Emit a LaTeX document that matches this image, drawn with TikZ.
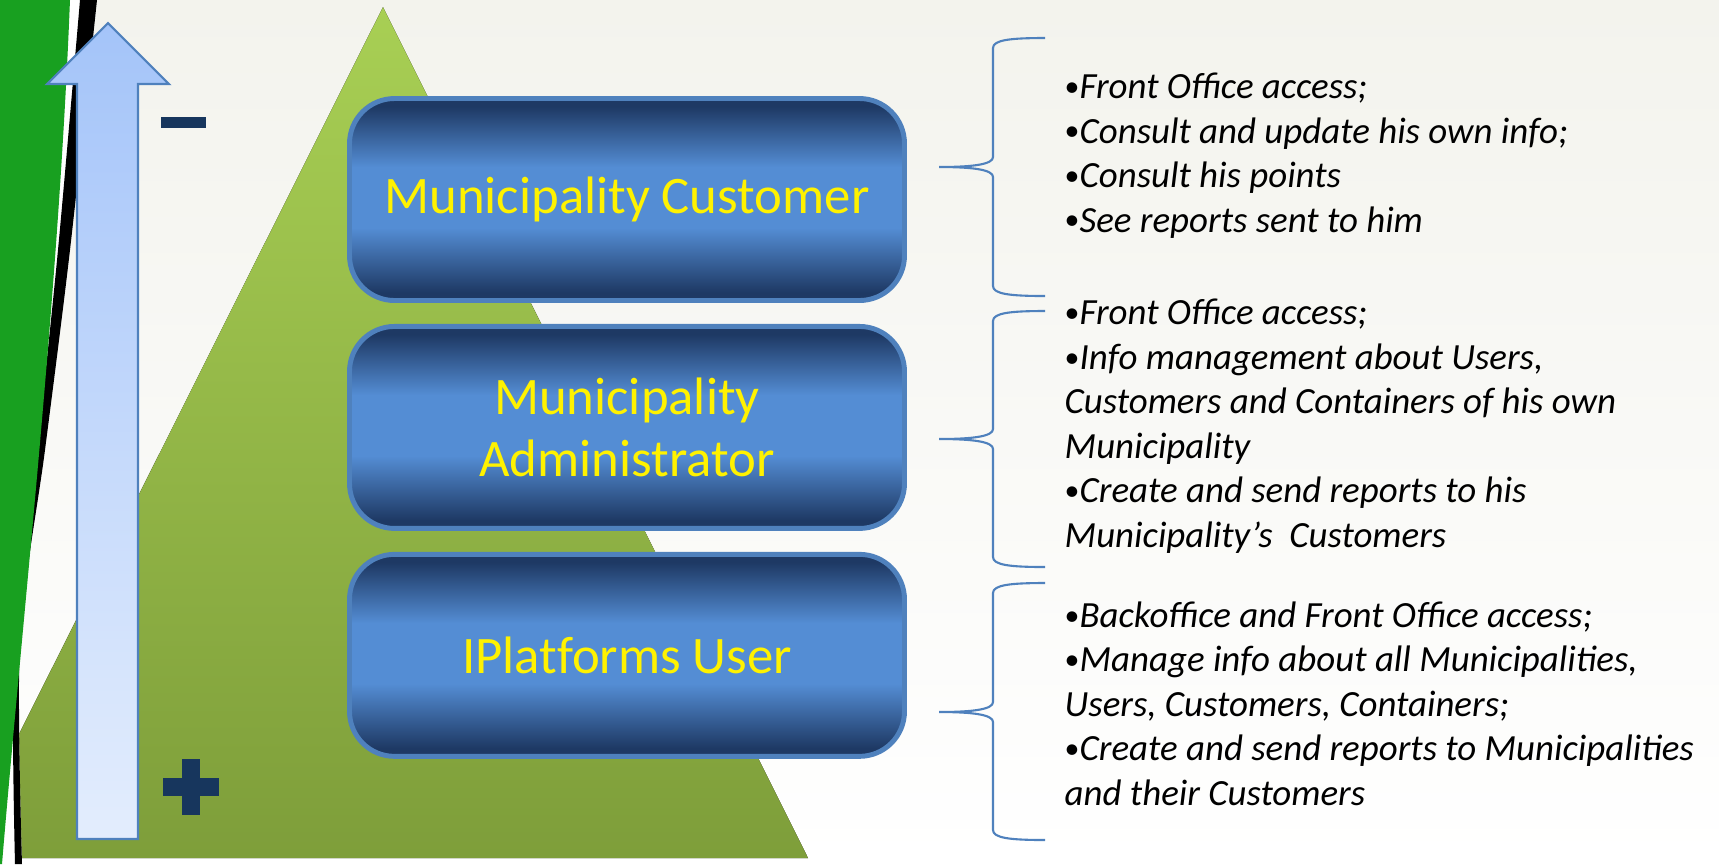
\documentclass[tikz,border=0pt]{standalone}
\usepackage{fontspec}
\setmainfont{Carlito}
\usepackage{graphicx}
\usepackage{tikz}
\usetikzlibrary{positioning}

\definecolor{bgtop}{RGB}{243,243,237}
\definecolor{stripgreen}{RGB}{24,160,32}
\definecolor{tritop}{RGB}{168,207,84}
\definecolor{tribot}{RGB}{126,158,58}
\definecolor{arrowtop}{RGB}{164,196,249}
\definecolor{arrowbot}{RGB}{227,237,253}
\definecolor{edgeblue}{RGB}{79,129,189}
\definecolor{boxdark}{RGB}{30,57,100}
\definecolor{boxlight}{RGB}{84,141,212}
\definecolor{signblue}{RGB}{23,54,93}

\pgfdeclareverticalshading{boxshade}{100bp}{color(0bp)=(boxdark); color(27bp)=(boxdark);
  color(43bp)=(boxlight); color(58bp)=(boxlight); color(73bp)=(boxdark); color(100bp)=(boxdark)}

\newcommand\dotitem{\raisebox{0.12ex}{\upshape\fontsize{8.5}{8.5}\selectfont•}}

\begin{document}
\begin{tikzpicture}[x=0.1mm,y=-0.1mm,
    role/.style={draw=edgeblue,line width=1.4pt,rounded corners=4.5mm,shading=boxshade,
      minimum width=55.5mm,minimum height=20.2mm,text=yellow,align=center,
      font=\fontsize{15}{17.6}\selectfont},
    rights/.style={anchor=base west,align=left,inner sep=0pt,
      font=\itshape\fontsize{10.5}{12.65}\selectfont},
    bracket/.style={draw=edgeblue,line width=0.6pt}]
  \useasboundingbox (0,0) rectangle (1719,864);
  \fill[top color=bgtop,bottom color=white] (0,0) rectangle (1719,864);

  \fill[top color=tritop,bottom color=tribot] (383,7) -- (808,858) -- (-43,858) -- cycle;
  \fill[white] (0,0) -- plot[smooth] coordinates {(97,0) (70,250) (45,450) (20,650) (22,864)}
    -- (0,864) -- cycle;
  \fill[black] plot[smooth] coordinates {(80,0) (58,250) (37,450) (14,640) (15,864)}
    -- plot[smooth] coordinates {(22,864) (20,640) (45,450) (70,250) (97,0)} -- cycle;
  \fill[stripgreen] (0,0) -- (70,0) .. controls (58,300) and (24,600) .. (2,864) -- (0,864) -- cycle;

  \draw[draw=edgeblue,line width=0.6pt,top color=arrowtop,bottom color=arrowbot]
    (77,839) -- (77,84) -- (47,84) -- (108,23) -- (169,84) -- (138,84) -- (138,839) -- cycle;
  \fill[signblue] (161,117) rectangle (206,128);
  \fill[signblue] (163,778) rectangle (219,796);
  \fill[signblue] (182,759) rectangle (200,815);

  \node[role] (cust) at (627,199.5) {Municipality Customer};
  \node[role,below=2.1mm of cust] (admin) {Municipality\\Administrator};
  \node[role,below=2.1mm of admin] (user) {IPlat\kern0pt forms User};

  \foreach \top/\tip/\bot in {38/167/296, 311/439/567, 583/712/840}
    \draw[bracket] (1045,\top) .. controls (1010,\top) and (993,\top+2) .. (993,\top+10)
      -- (993,\tip-10) .. controls (993,\tip-3) and (975,\tip) .. (939,\tip)
      .. controls (975,\tip) and (993,\tip+3) .. (993,\tip+10)
      -- (993,\bot-10) .. controls (993,\bot-2) and (1010,\bot) .. (1045,\bot);

  \node[rights] (custinfo) at (1064,232) {\dotitem Front Office access;\\
    \dotitem Consult and update his own info;\\\dotitem Consult his points\\
    \dotitem See reports sent to him};
  \node[rights] (admininfo) at (1064,547) {\dotitem Front Office access;\\
    \dotitem Info management about Users,\\Customers and Containers of his own\\Municipality\\
    \dotitem Create and send reports to his\\Municipality’s~~Customers};
  \node[rights] (userinfo) at (1064,805) {\dotitem Backoffice and Front Office access;\\
    \dotitem Manage info about all Municipali\kern0pt ties,\\Users, Customers, Containers;\\
    \dotitem Create and send reports to Municipali\kern0pt ties\\and their Customers};
\end{tikzpicture}
\end{document}
